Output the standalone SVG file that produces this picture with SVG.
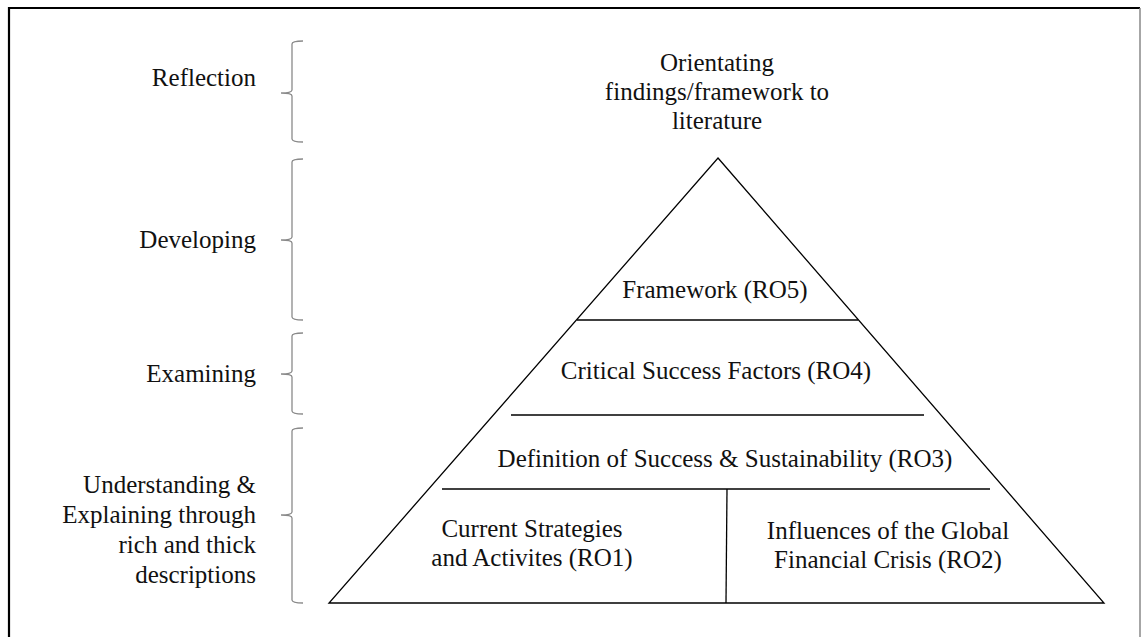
<svg xmlns="http://www.w3.org/2000/svg" width="1141" height="637" viewBox="0 0 1141 637">
<style>
text{font-family:'Liberation Serif',Tinos,'Times New Roman',Times,'DejaVu Serif',serif;font-size:25px;fill:#111}
.r{text-anchor:end}
.m{text-anchor:middle}
.brace{fill:none;stroke:#8a8a8a;stroke-width:1.3}
.ln{stroke:#000;stroke-width:1.3;fill:none}
</style>
<rect width="1141" height="637" fill="#fff"/>
<path d="M9,660 L9,8 L1140,8" fill="none" stroke="#000" stroke-width="2.2"/>
<line x1="1140" y1="8" x2="1140" y2="660" stroke="#888" stroke-width="1.5"/>
<g id="stage-labels" font-family="Liberation Serif, serif">
<g id="reflection"><text class="r" x="256" y="86">Reflection</text><path class="brace" d="M303,41 Q292,41 292,44 L292,90 Q292,93 281,93 Q292,93 292,96 L292,139 Q292,142 303,142"/></g>
<g id="developing"><text class="r" x="256" y="248">Developing</text><path class="brace" d="M303,159 Q292,159 292,162 L292,237 Q292,240 281,240 Q292,240 292,243 L292,317 Q292,320 303,320"/></g>
<g id="examining"><text class="r" x="256" y="382">Examining</text><path class="brace" d="M303,333 Q292,333 292,336 L292,371 Q292,374 281,374 Q292,374 292,377 L292,411 Q292,414 303,414"/></g>
<g id="understanding"><text class="r" x="256" y="493">Understanding &amp;</text><text class="r" x="256" y="523">Explaining through</text><text class="r" x="256" y="553">rich and thick</text><text class="r" x="256" y="583">descriptions</text><path class="brace" d="M303,428 Q292,428 292,431 L292,512 Q292,515 281,515 Q292,515 292,518 L292,600 Q292,603 303,603"/></g>
</g>
<g id="top-label"><text class="m" x="717" y="71">Orientating</text><text class="m" x="717" y="100">findings/framework to</text><text class="m" x="717" y="129">literature</text></g>
<g id="pyramid">
<path class="ln" d="M718,158 L1104,603 L329,603 Z" stroke-width="1.6"/>
</g>
<g id="connectors">
<line class="ln" x1="577" y1="320" x2="858" y2="320"/>
<line class="ln" x1="511" y1="415" x2="924" y2="415"/>
<line class="ln" x1="442" y1="489" x2="990" y2="489"/>
<line class="ln" x1="727" y1="489" x2="726" y2="603"/>
</g>
<g id="ro5"><text class="m" x="715" y="298">Framework (RO5)</text></g>
<g id="ro4"><text class="m" x="716" y="379">Critical Success Factors (RO4)</text></g>
<g id="ro3"><text class="m" x="725" y="467">Definition of Success &amp; Sustainability (RO3)</text></g>
<g id="ro1"><text class="m" x="532" y="537">Current Strategies</text><text class="m" x="532" y="566">and Activites (RO1)</text></g>
<g id="ro2"><text class="m" x="888" y="539">Influences of the Global</text><text class="m" x="888" y="568">Financial Crisis (RO2)</text></g>
</svg>
